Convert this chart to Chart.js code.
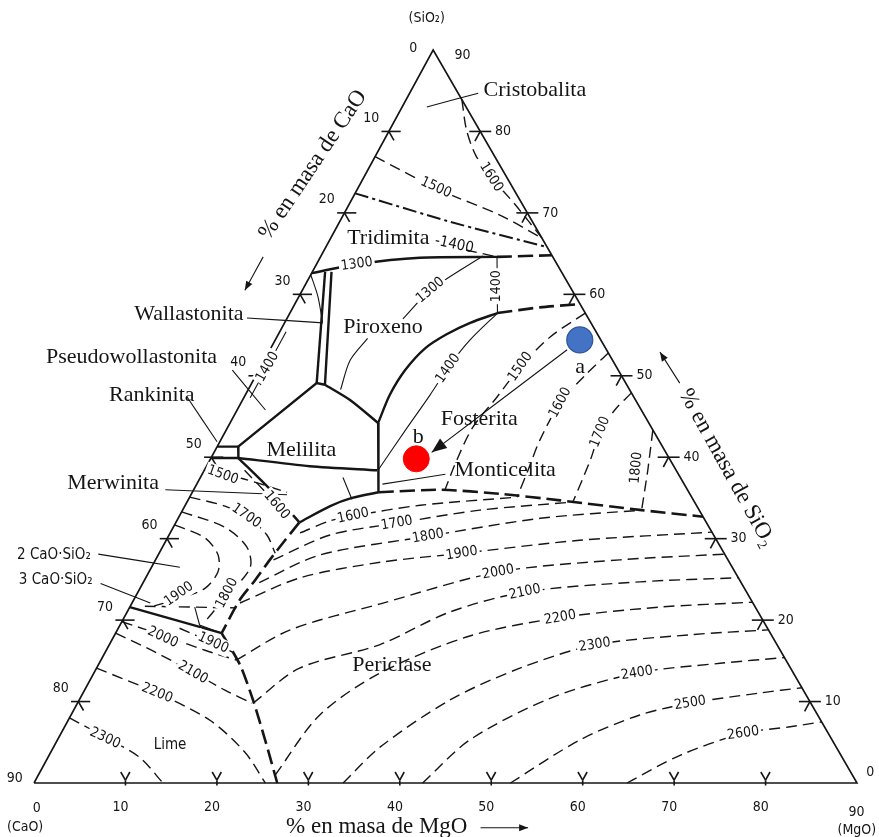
<!DOCTYPE html>
<html lang="es">
<head>
<meta charset="utf-8">
<title>Diagrama CaO-MgO-SiO2</title>
<script src="https://cdn.jsdelivr.net/npm/chart.js@4.4.1/dist/chart.umd.min.js"></script>
<style>
  html, body { margin: 0; padding: 0; background: #fff; }
  #wrap { width: 879px; height: 837px; }
</style>
</head>
<body>
<div id="wrap"><canvas id="diagram" width="879" height="837"></canvas></div>
<script>
// Every composition is [MgO, SiO2] on the diagram's own 0-90 scales, CaO is the rest.
const frame = [[0, 0], [90, 0], [0, 90], [0, 0]];
const tickValues = [10, 20, 30, 40, 50, 60, 70, 80];

// silica corner
const cristobalite1500 = [[0, 76.9], [9.1, 72.8], [17.2, 69.7], [23.1, 66.9]];
const cristobalite1600 = [[6.1, 83.9], [8.4, 80.2], [10.9, 77.1], [13.9, 74.4], [18.2, 71.0], [23.1, 66.9]];
const inversion1470 = [[0, 72.4], [12.1, 68.9], [24.2, 65.8]];
const tridymiteBoundary = [[0, 62.6], [4.4, 63.7], [10.9, 64.5], [19.3, 64.6]];
const tridymiteBoundaryEnd = [[19.3, 64.6], [25.2, 64.8]];
const tridymite1400 = [[15.5, 65.45], [19.3, 64.6]];
const pyroxene1400 = [[19.3, 64.6], [22.7, 57.7]];
const pyroxene1300 = [[12.7, 57.0], [14.0, 60.5], [17.7, 64.7]];
const pyroxeneCurve = [[10.0, 54.6], [9.4, 51.9], [10.1, 48.3]];

// wollastonite / melilite area
const wollastoniteLeft = [[1.4, 62.75], [7.1, 49.1]];
const wollastoniteRight = [[2.1, 62.75], [8.1, 48.9]];
const pseudoWollastonite = [[0, 62.4], [2.1, 59.7], [4.1, 56.6]];
const pseudo1400 = [[0.7, 55.4], [0.7, 47.3]];
const pyroxeneMelilite = [[8.1, 48.9], [11.8, 47.0], [16.2, 44.2]];
const melilitePseudo = [[8.1, 48.9], [7.1, 49.1], [2.3, 41.3]];
const rankinite = [[0, 41.3], [2.3, 41.3], [3.0, 39.9], [0, 39.9]];
const meliliteBottom = [[3.0, 39.9], [11.3, 38.9], [18.9, 38.4]];
const meliliteForsterite = [[16.2, 44.2], [19.0, 38.4], [20.4, 35.7]];
const merwiniteBoundary = [[3.0, 39.9], [8.4, 36.0], [13.5, 32.0]];
const periclaseBoundary = [[13.5, 32.0], [15.9, 34.0], [17.8, 35.0], [20.4, 35.7]];
const monticelliteLine = [[15.6, 37.5], [17.9, 34.8]];

// pyroxene / forsterite
const pyroxeneForsterite = [[16.2, 44.2], [15.8, 47.6], [16.0, 50.7], [16.9, 53.4], [18.4, 55.1], [20.3, 56.5], [22.7, 57.7]];
const pyroxeneForsteriteEnd = [[22.7, 57.7], [27.0, 58.4], [31.2, 58.8]];
const forsterite1400 = [[19.0, 38.4], [19.6, 43.3], [20.2, 47.6], [20.6, 51.3], [21.3, 54.4], [22.7, 57.7]];
const forsterite1500 = [[32.3, 57.7], [29.9, 54.8], [28.4, 51.1], [27.65, 47.4], [26.8, 43.7], [27.0, 39.7], [27.5, 35.9]];
const forsterite1600 = [[37.2, 52.8], [36.0, 50.1], [34.9, 46.7], [34.9, 42.1], [35.4, 38.4], [35.8, 35.1]];
const forsterite1700 = [[42.1, 47.9], [41.3, 45.8], [41.0, 43.1], [41.6, 39.7], [42.2, 34.5]];
const forsterite1800 = [[46.65, 43.35], [48.5, 38.4], [50.2, 33.5]];
const forsteritePericlase = [[20.4, 35.7], [27.0, 36.0], [33.8, 35.5], [40.7, 34.7], [50.2, 33.5], [57.3, 32.7]];

// dicalcium silicate / lime side
const merwinite1500 = [[0, 38.4], [4.4, 37.45], [10.35, 35.7]];
const merwinite1600 = [[4.4, 38.4], [8.8, 35.1], [12.3, 32.3]];
const silicate1700 = [[0, 35.1], [4.4, 34.0], [7.8, 32.5], [10.7, 30.45], [12.7, 28.2]];
const silicate1800 = [[0, 33.3], [5.65, 31.4], [9.2, 29.0], [10.8, 26.5], [10.2, 23.5], [9.4, 21.0], [9.1, 19.8]];
const silicate1900 = [[0, 31.7], [4.1, 30.1], [6.55, 28.0], [7.55, 25.9], [7.1, 23.9], [5.0, 22.7], [2.2, 21.6]];
const larnitePericlase = [[13.5, 32.0], [13.0, 29.8], [12.5, 27.4], [12.1, 24.9], [11.6, 22.5], [11.6, 18.4]];
const limePericlase = [[11.6, 18.4], [15.5, 14.5], [19.0, 10.2], [22.7, 5.3], [26.6, 0]];
const tricalciumLine = [[0, 21.6], [11.6, 18.4]];
const tricalciumDash = [[1.6, 21.7], [11.7, 21.5]];
const tricalciumWedge = [[7.1, 21.6], [8.7, 19.4], [11.6, 18.4]];
const lime1900 = [[6.7, 19.0], [11.25, 17.2], [13.85, 16.1]];
const lime2000 = [[0, 19.8], [5.6, 18.05], [10.8, 16.3], [14.8, 15.1]];
const lime2100 = [[0, 18.4], [5.4, 16.1], [10.8, 13.6], [15.35, 11.4], [19.1, 9.8]];
const lime2200 = [[0, 14.1], [8.1, 11.05], [15.5, 7.7], [21.2, 3.8], [25.3, 0]];
const lime2300 = [[0, 8.0], [5.75, 5.3], [10.1, 3.1], [14.1, 0]];

// periclase field
const periclase1600 = [[14.2, 30.7], [16.8, 32.2], [19.0, 32.8], [25.7, 34.1], [35.8, 35.1]];
const periclase1700 = [[12.9, 27.4], [17.6, 30.45], [24.2, 31.9], [32.5, 33.5], [42.2, 34.5]];
const periclase1800 = [[12.7, 24.6], [17.7, 28.0], [28.4, 30.3], [39.6, 32.5], [50.2, 33.5]];
const periclase1900 = [[11.8, 22.1], [16.9, 25.2], [24.7, 27.1], [33.1, 28.2], [45.2, 29.8], [59.2, 30.8]];
const periclase2000 = [[14.8, 15.1], [18.9, 18.8], [27.2, 22.0], [38.2, 25.9], [50.8, 27.4], [61.9, 28.1]];
const periclase2100 = [[19.2, 9.8], [22.2, 14.1], [29.6, 17.0], [35.3, 21.0], [42.3, 23.45], [54.3, 24.7], [64.8, 25.2]];
const periclase2200 = [[25.9, 1.0], [27.2, 8.35], [31.3, 13.5], [38.9, 18.05], [47.7, 20.3], [58.0, 21.6], [67.8, 22.2]];
const periclase2300 = [[33.8, 0], [35.7, 4.4], [40.55, 10.2], [46.3, 14.1], [53.1, 16.95], [62.9, 18.2], [71.2, 18.8]];
const periclase2400 = [[42.5, 0], [45.1, 5.3], [51.4, 10.4], [59.4, 13.5], [67.9, 14.7], [74.6, 15.4]];
const periclase2500 = [[52.1, 0], [57.15, 5.3], [62.2, 8.35], [67.0, 9.8], [74.0, 11.05], [78.3, 11.7]];
const periclase2600 = [[64.85, 0], [69.0, 3.4], [74.6, 6.1], [79.35, 6.9], [82.5, 7.5]];

// leader lines and arrows
const leaderCristobalite = [[2.7, 83.0], [7.5, 84.7]];
const leaderWollastonite = [[-4.4, 57.1], [4.2, 56.5]];
const leaderPseudo = [[-2.9, 50.7], [3.1, 45.8]];
const leaderRankinite = [[-6.25, 47.4], [-0.3, 41.9]];
const leaderMerwinite = [[-3.1, 36.0], [10.5, 35.4]];
const leaderC2S = [[-6.6, 28.1], [3.1, 26.5]];
const leaderC3S = [[-4.6, 24.5], [2.0, 22.1]];
const leaderMonticellite = [[20.3, 36.7], [26.6, 37.9]];
const arrowAB = [[32.5, 53.2], [23.8, 40.6]];
const arrowCaO = [[-6.27, 64.6], [-6.28, 60.5]];
const arrowSiO2 = [[46.8, 49.1], [42.8, 52.9]];
const arrowMgO = [[51.5, -5.5], [56.7, -5.5]];

// the two marked compositions
const pointA = [33.3, 54.4];
const pointB = [22.5, 39.8];

// texts: [text, MgO, SiO2, rotation deg]
const regionLabels = [
  ['Cristobalita', 13.5, 85.1], ['Tridimita', 6.3, 66.9], ['Wallastonita', -11.0, 57.6],
  ['Piroxeno', 11.0, 56.0], ['Pseudowollastonita', -14.7, 52.3], ['Rankinita', -10.2, 47.6],
  ['Melilita', 9.4, 40.9], ['Merwinita', -9.2, 36.8], ['Fosterita', 27.0, 44.7],
  ['Monticelita', 32.9, 38.4], ['Periclase', 32.1, 14.5]
];
const smallLabels = [['2 CaO·SiO₂', -11.4, 28.0], ['3 CaO·SiO₂', -9.7, 24.9], ['Lime', 12.6, 4.7], ['-1400', 13.9, 66.1, 12]];
const isothermLabels = [
  ['1500', 8.5, 73.1, 25], ['1600', 13.9, 74.4, 58], ['1300', 4.4, 63.7, -8], ['1400', 21.0, 61.0, -90],
  ['1300', 14.0, 60.5, -40], ['1400', 20.6, 50.9, -55], ['1400', 0.75, 51.1, -60],
  ['1500', 28.4, 51.1, -55], ['1600', 34.9, 46.7, -62], ['1700', 41.0, 43.1, -68], ['1800', 47.1, 38.7, -85],
  ['1500', 2.3, 37.8, 20], ['1600', 10.0, 34.1, 50], ['1700', 7.3, 32.8, 35], ['1800', 9.8, 23.3, -62],
  ['1900', 4.6, 23.2, -35], ['2000', 5.4, 17.9, 25], ['1900', 11.25, 17.2, 25], ['2100', 10.8, 13.55, 30],
  ['2200', 8.1, 11.05, 22], ['2300', 5.1, 5.5, 25],
  ['1600', 19.0, 32.8, -12], ['1700', 24.2, 31.9, -10], ['1800', 28.4, 30.3, -10], ['1900', 33.1, 28.2, -9],
  ['2000', 38.2, 25.9, -10], ['2100', 42.3, 23.45, -12], ['2200', 47.7, 20.3, -10], ['2300', 53.1, 16.95, -9],
  ['2400', 59.4, 13.5, -9], ['2500', 67.0, 9.8, -9], ['2600', 74.6, 6.1, -8]
];
const axisTitles = [['% en masa de CaO', -6.3, 75.9, -56], ['% en masa de SiO₂', 57.0, 38.7, 61], ['% en masa de MgO', 40.1, -5.4, 0]];
const cornerLabels = [
  ['(SiO₂)', -2.6, 93.9], ['0', -2.3, 90.25], ['90', 3.5, 89.4], ['90', -2.4, 0.6], ['0', 1.8, -3.1],
  ['(CaO)', 1.7, -5.5], ['0', 90.8, 1.35], ['90', 91.7, -3.6], ['(MgO)', 92.8, -5.8]
];
const pointLabels = [['a', 34.95, 51.1], ['b', 21.4, 42.5]];

const SKEW = 0.485; // the scanned triangle leans a little to the left
function pt(p) { return { x: p[0] + p[1] * SKEW, y: p[1] }; }

const INK = '#151515';
const STYLE = {
  edge: { borderWidth: 1.6, borderDash: [], tension: 0 },
  bound: { borderWidth: 2.4, borderDash: [], tension: 0.25 },
  boundDash: { borderWidth: 2.6, borderDash: [15, 6], tension: 0.25 },
  iso: { borderWidth: 1.4, borderDash: [11, 6], tension: 0.3 },
  dashDot: { borderWidth: 2, borderDash: [14, 4, 3, 4], tension: 0.2 },
  thin: { borderWidth: 1.1, borderDash: [], tension: 0.3 }
};

const curves = [
  [frame, 'edge'],
  [cristobalite1500, 'iso'], [cristobalite1600, 'iso'], [inversion1470, 'dashDot'],
  [tridymiteBoundary, 'bound'], [tridymiteBoundaryEnd, 'boundDash'], [tridymite1400, 'iso'],
  [pyroxene1400, 'thin'], [pyroxene1300, 'thin'], [pyroxeneCurve, 'thin'],
  [wollastoniteLeft, 'bound'], [wollastoniteRight, 'bound'], [pseudoWollastonite, 'thin'], [pseudo1400, 'thin'],
  [pyroxeneMelilite, 'bound'], [melilitePseudo, 'bound', { tension: 0 }], [rankinite, 'bound', { tension: 0 }],
  [meliliteBottom, 'bound'], [meliliteForsterite, 'bound', { tension: 0 }], [merwiniteBoundary, 'bound'],
  [periclaseBoundary, 'bound'], [monticelliteLine, 'thin'],
  [pyroxeneForsterite, 'bound'], [pyroxeneForsteriteEnd, 'boundDash'], [forsterite1400, 'thin'],
  [forsterite1500, 'iso'], [forsterite1600, 'iso'], [forsterite1700, 'iso'], [forsterite1800, 'iso', { tension: 0 }],
  [forsteritePericlase, 'boundDash'],
  [merwinite1500, 'iso'], [merwinite1600, 'iso'], [silicate1700, 'iso'], [silicate1800, 'iso'], [silicate1900, 'iso'],
  [larnitePericlase, 'boundDash'], [limePericlase, 'boundDash'],
  [tricalciumLine, 'bound'], [tricalciumDash, 'iso'], [tricalciumWedge, 'thin', { tension: 0 }],
  [lime1900, 'iso'], [lime2000, 'iso'], [lime2100, 'iso'], [lime2200, 'iso'], [lime2300, 'iso'],
  [periclase1600, 'iso'], [periclase1700, 'iso'], [periclase1800, 'iso'], [periclase1900, 'iso'],
  [periclase2000, 'iso'], [periclase2100, 'iso'], [periclase2200, 'iso'], [periclase2300, 'iso'],
  [periclase2400, 'iso'], [periclase2500, 'iso'], [periclase2600, 'iso'],
  [leaderCristobalite, 'thin'], [leaderWollastonite, 'thin'], [leaderPseudo, 'thin'], [leaderRankinite, 'thin'],
  [leaderMerwinite, 'thin'], [leaderC2S, 'thin'], [leaderC3S, 'thin'], [leaderMonticellite, 'thin'],
  [arrowAB, 'thin', { arrowHead: 15, arrowWidth: 6 }],
  [arrowCaO, 'thin', { arrowHead: 9, arrowWidth: 3.5 }],
  [arrowSiO2, 'thin', { arrowHead: 9, arrowWidth: 3.5 }],
  [arrowMgO, 'thin', { arrowHead: 9, arrowWidth: 3.5 }]
];

// tick marks built from the tick values
tickValues.forEach(k => {
  const j = [k - 0.17, 0.35];
  curves.push([[j, [k - 0.17, 1.35]], 'edge'], [[j, [k - 1.17, 1.35]], 'edge'], [[j, [k + 0.15, -0.3]], 'edge']);
  const m = 90 - k;
  curves.push([[[m - 1.2, k], [m + 1.2, k]], 'edge'], [[[m, k], [m, k - 1.2]], 'edge']);
  const s = 90 - k;
  curves.push([[[-0.8, s], [1.3, s]], 'edge'], [[[0, s], [1.1, s - 1.1]], 'edge']);
});

const tickLabels = [];
tickValues.forEach(k => {
  tickLabels.push([String(k), -2.7, 90 - k + 1.6]);
  tickLabels.push([String(k), 90 - k + 2.5, k]);
  tickLabels.push([String(k), k + 0.9, -2.95]);
});

const datasets = [
  { data: [pt(pointA)], showLine: false, pointRadius: 13, pointBackgroundColor: '#4472C4', pointBorderColor: '#2F5597', pointBorderWidth: 1.2, order: -1, clip: false },
  { data: [pt(pointB)], showLine: false, pointRadius: 13, pointBackgroundColor: '#FF0000', pointBorderColor: '#FF0000', pointBorderWidth: 1, order: -1, clip: false }
];
curves.forEach(([d, s, extra]) => {
  datasets.push(Object.assign({
    data: d.map(pt), showLine: true, pointRadius: 0, pointHoverRadius: 0,
    borderColor: INK, fill: false, clip: false, borderCapStyle: 'butt'
  }, STYLE[s], extra || {}));
});

const SERIF = '"Liberation Serif", "Times New Roman", serif';
const NARROW = '"Liberation Sans Narrow", "DejaVu Sans Condensed", "Liberation Sans", sans-serif';
const KINDS = {
  region: { font: '22px ' + SERIF },
  small: { font: '15px ' + NARROW },
  iso: { font: '14px ' + NARROW, bg: true },
  axis: { font: '23px ' + SERIF },
  tick: { font: '14px ' + NARROW },
  point: { font: '22px ' + SERIF }
};
const allTexts = [].concat(
  regionLabels.map(l => [l, 'region']), smallLabels.map(l => [l, 'small']),
  isothermLabels.map(l => [l, 'iso']), axisTitles.map(l => [l, 'axis']),
  tickLabels.map(l => [l, 'tick']), cornerLabels.map(l => [l, 'tick']),
  pointLabels.map(l => [l, 'point'])
);

const inkPlugin = {
  id: 'ink',
  afterDatasetsDraw(chart) {
    const { ctx } = chart;
    const sx = chart.scales.x, sy = chart.scales.y;
    ctx.save();
    chart.data.datasets.forEach(ds => {
      if (!ds.arrowHead) return;
      const n = ds.data.length;
      const a = ds.data[n - 2], b = ds.data[n - 1];
      const ax = sx.getPixelForValue(a.x), ay = sy.getPixelForValue(a.y);
      const bx = sx.getPixelForValue(b.x), by = sy.getPixelForValue(b.y);
      const ang = Math.atan2(by - ay, bx - ax);
      ctx.save();
      ctx.translate(bx, by);
      ctx.rotate(ang);
      ctx.fillStyle = INK;
      ctx.beginPath();
      ctx.moveTo(0, 0);
      ctx.lineTo(-ds.arrowHead, -ds.arrowWidth);
      ctx.lineTo(-ds.arrowHead, ds.arrowWidth);
      ctx.closePath();
      ctx.fill();
      ctx.restore();
    });
    allTexts.forEach(([l, kind]) => {
      const [text, m, s, rot] = l;
      const k = KINDS[kind];
      const q = pt([m, s]);
      const px = sx.getPixelForValue(q.x), py = sy.getPixelForValue(q.y);
      ctx.save();
      ctx.translate(px, py);
      ctx.rotate((rot || 0) * Math.PI / 180);
      ctx.font = k.font;
      ctx.textAlign = 'center';
      ctx.textBaseline = 'middle';
      if (k.bg) {
        const w = ctx.measureText(text).width;
        ctx.fillStyle = '#fff';
        ctx.fillRect(-w / 2 - 2, -8, w + 4, 16);
      }
      ctx.fillStyle = INK;
      ctx.fillText(text, 0, 0);
      ctx.restore();
    });
    ctx.restore();
  }
};

new Chart(document.getElementById('diagram'), {
  type: 'scatter',
  data: { datasets },
  options: {
    responsive: false,
    animation: false,
    devicePixelRatio: 1,
    layout: { padding: { left: 34, right: 22, top: 50, bottom: 54 } },
    plugins: { legend: { display: false }, tooltip: { enabled: false } },
    events: [],
    scales: {
      x: { type: 'linear', min: 0, max: 90, display: false },
      y: { type: 'linear', min: 0, max: 90, display: false }
    }
  },
  plugins: [inkPlugin]
});
</script>
</body>
</html>
